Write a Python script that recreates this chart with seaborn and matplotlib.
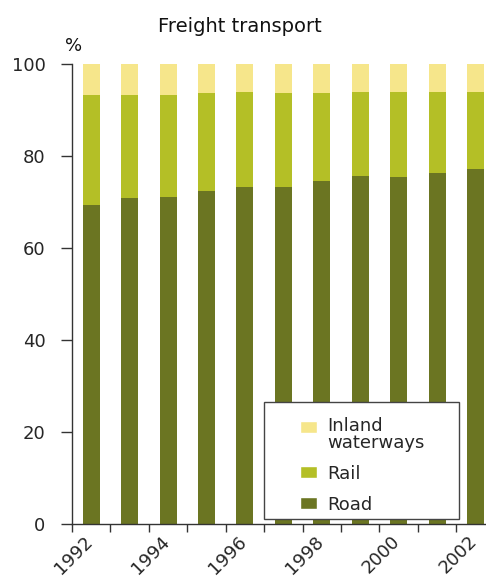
import matplotlib
matplotlib.use("Agg")
import matplotlib.pyplot as plt
import matplotlib.transforms as mtransforms
from matplotlib.patches import Patch, Rectangle
from matplotlib.legend_handler import HandlerPatch
import seaborn as sns
import numpy as np
import pandas as pd

# data (shares in %)
years = [str(y) for y in range(1992, 2003)]
road = [69.3, 70.9, 71.1, 72.4, 73.3, 73.3, 74.6, 75.7, 75.4, 76.3, 77.2]
rail = [23.9, 22.3, 22.1, 21.3, 20.6, 20.4, 19.1, 18.2, 18.5, 17.6, 16.7]
inland = [6.8, 6.8, 6.8, 6.3, 6.1, 6.3, 6.3, 6.1, 6.1, 6.1, 6.1]

c_road = "#6b7522"
c_rail = "#b4bf26"
c_inland = "#f6e68b"

sns.set_style("white")
plt.rcParams["font.family"] = ["DejaVu Sans"]

df = pd.DataFrame({"year": years, "road": road, "rail": rail, "inland": inland})
df["rail_top"] = df["road"] + df["rail"]
df["total"] = df["rail_top"] + df["inland"]

W, H = 486, 577
fig = plt.figure(figsize=(W / 100, H / 100), dpi=100)
ax = fig.add_axes([72 / W, (H - 524) / H, (494.75 - 72) / W, 460 / H])

# stacked bars: draw cumulative totals back to front
sns.barplot(data=df, x="year", y="total", color=c_inland, saturation=1, width=0.44, linewidth=0, ax=ax)
sns.barplot(data=df, x="year", y="rail_top", color=c_rail, saturation=1, width=0.44, linewidth=0, ax=ax)
sns.barplot(data=df, x="year", y="road", color=c_road, saturation=1, width=0.44, linewidth=0, ax=ax)

ax.set_xlim(-0.5, len(years) - 0.5)
ax.set_ylim(0, 100)
ax.set_yticks([0, 20, 40, 60, 80, 100])
ax.set_xlabel("")
ax.set_ylabel("")

# ticks at category boundaries, labels every second year
ax.set_xticks(np.arange(-0.5, len(years), 1), labels=[""] * (len(years) + 1))
ax.set_xticks(range(0, len(years), 2), labels=years[::2], minor=True)
ax.tick_params(axis="x", which="major", length=6, width=1, color="#333333", direction="out", bottom=True)
ax.tick_params(axis="x", which="minor", length=0, pad=6, labelsize=13)
ax.tick_params(axis="y", length=8, width=1, color="#333333", direction="out", left=True, pad=11, labelsize=13)
shift = mtransforms.ScaledTranslation(5 / 100, 0, fig.dpi_scale_trans)
for lab in ax.get_xticklabels(minor=True):
    lab.set_rotation(45)
    lab.set_ha("right")
    lab.set_transform(lab.get_transform() + shift)

sns.despine(ax=ax)
for s in ["left", "bottom"]:
    ax.spines[s].set_color("#333333")
    ax.spines[s].set_linewidth(1)

fig.text(240 / W, 1 - 26 / H, "Freight transport", fontsize=14, ha="center", va="center", color="#111111")
fig.text(65 / W, 1 - 46 / H, "%", fontsize=13, ha="left", va="center", color="#111111")

# legend box
box = Rectangle((264 / W, 1 - 519 / H), (459 - 264) / W, (519 - 402) / H, transform=fig.transFigure,
                facecolor="white", edgecolor="#444444", linewidth=1, zorder=5)
ax.add_patch(box)
box.set_clip_on(False)


def first_line_patch(legend, orig_handle, xdescent, ydescent, width, height, fontsize):
    # put the swatch next to the first line of a two-line label
    return Rectangle((-xdescent, -ydescent + 5.8), width, height)


handles = [Patch(facecolor=c_inland), Patch(facecolor=c_rail), Patch(facecolor=c_road)]
leg = ax.legend(handles, ["Inland\nwaterways", "Rail", "Road"], loc="upper left",
                bbox_to_anchor=(300 / W, 1 - 417 / H), bbox_transform=fig.transFigure,
                frameon=False, fontsize=13, borderpad=0, borderaxespad=0,
                handlelength=0.94, handleheight=0.67, handletextpad=0.55, labelspacing=0.72,
                handler_map={handles[0]: HandlerPatch(patch_func=first_line_patch)})
for t in leg.get_texts():
    t.set_linespacing(0.9)
leg.set_zorder(6)

fig.savefig("out.png", dpi=100)
